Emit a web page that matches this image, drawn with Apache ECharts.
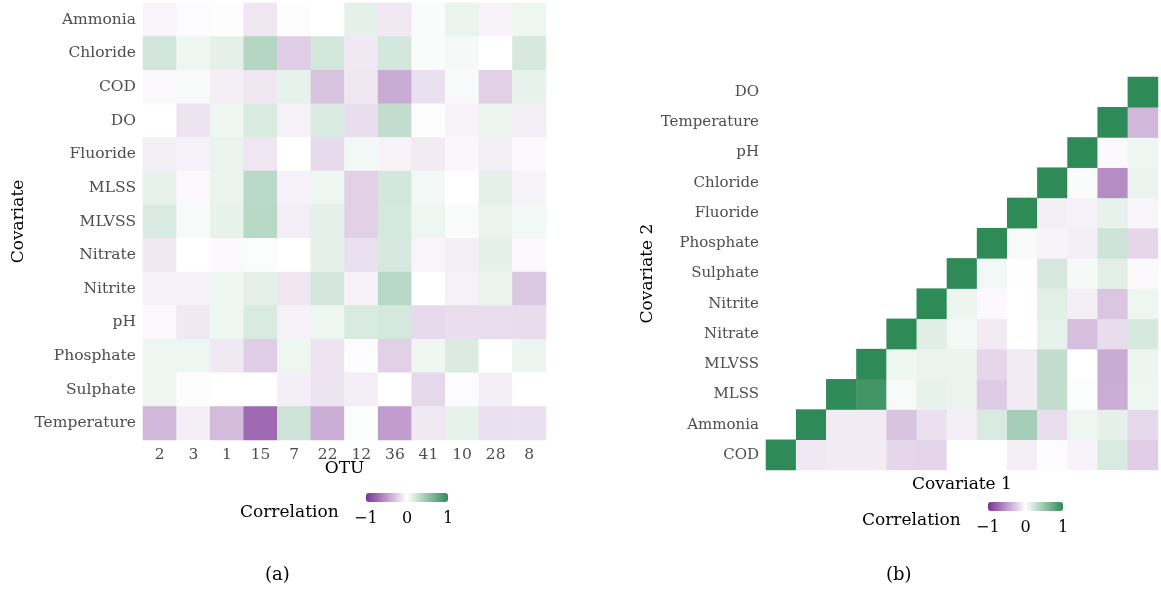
<!DOCTYPE html>
<html>
<head>
<meta charset="utf-8">
<script src="https://cdn.jsdelivr.net/npm/echarts@6/dist/echarts.min.js"></script>
<style>
html,body{margin:0;padding:0;background:#fff;}
#chart{width:1161px;height:592px;}
</style>
</head>
<body>
<div id="chart"></div>
<script>
// ---- data ----
var otuLabels = ['2','3','1','15','7','22','12','36','41','10','28','8'];
var covLeft = ['Ammonia','Chloride','COD','DO','Fluoride','MLSS','MLVSS','Nitrate','Nitrite','pH','Phosphate','Sulphate','Temperature'];
// rows follow covLeft, columns follow otuLabels
var otuCorr = [
  [-0.05,-0.02,-0.01,-0.12,-0.01, 0.00, 0.13,-0.11, 0.03, 0.10,-0.06, 0.08],
  [ 0.22, 0.07, 0.13, 0.35,-0.24, 0.21,-0.11, 0.21, 0.03, 0.05, 0.00, 0.19],
  [-0.03, 0.04,-0.08,-0.12, 0.11,-0.29,-0.12,-0.41,-0.15, 0.04,-0.23, 0.11],
  [ 0.00,-0.13, 0.08, 0.18,-0.07, 0.18,-0.16, 0.29,-0.01,-0.06, 0.09,-0.09],
  [-0.08,-0.07, 0.10,-0.12, 0.00,-0.18, 0.06,-0.06,-0.10,-0.04,-0.09,-0.03],
  [ 0.11,-0.03, 0.10, 0.33,-0.07, 0.08,-0.23, 0.21, 0.06, 0.00, 0.13,-0.06],
  [ 0.18, 0.04, 0.11, 0.34,-0.09, 0.13,-0.23, 0.20, 0.08, 0.03, 0.10, 0.06],
  [-0.11, 0.00,-0.03, 0.02, 0.00, 0.13,-0.15, 0.19,-0.05,-0.08, 0.13,-0.03],
  [-0.07,-0.07, 0.08, 0.13,-0.12, 0.21,-0.07, 0.34, 0.00,-0.07, 0.10,-0.27],
  [-0.03,-0.11, 0.08, 0.18,-0.07, 0.08, 0.18, 0.20,-0.18,-0.16,-0.16,-0.17],
  [ 0.08, 0.08,-0.11,-0.24, 0.08,-0.13,-0.02,-0.23, 0.07, 0.17, 0.00, 0.09],
  [ 0.08,-0.01, 0.00, 0.00,-0.08,-0.14,-0.08, 0.00,-0.19,-0.02,-0.08, 0.00],
  [-0.35,-0.08,-0.33,-0.73, 0.24,-0.40, 0.02,-0.48,-0.11, 0.11,-0.15,-0.15]
];

var cov2 = ['COD','Ammonia','MLSS','MLVSS','Nitrate','Nitrite','Sulphate','Phosphate','Fluoride','Chloride','pH','Temperature','DO'];
// upper triangle: row i holds correlations of cov2[i] with cov2[i..12]
var covCorr = [
  [1,-0.11,-0.10,-0.10,-0.20,-0.21, 0.00, 0.00,-0.08,-0.02,-0.06, 0.18,-0.24],
  [1,-0.10,-0.10,-0.29,-0.15,-0.08, 0.18, 0.43,-0.16, 0.08, 0.13,-0.19],
  [1, 0.91, 0.04, 0.11, 0.10,-0.25,-0.10, 0.29, 0.02,-0.40, 0.08],
  [1, 0.07, 0.10, 0.10,-0.20,-0.10, 0.29, 0.00,-0.41, 0.09],
  [1, 0.15, 0.06,-0.10, 0.00, 0.12,-0.31,-0.17, 0.19],
  [1, 0.09,-0.03, 0.00, 0.14,-0.08,-0.28, 0.08],
  [1, 0.06, 0.01, 0.19, 0.05, 0.14,-0.03],
  [1, 0.04,-0.06,-0.08, 0.24,-0.20],
  [1,-0.08,-0.07, 0.11,-0.05],
  [1, 0.03,-0.56, 0.10],
  [1,-0.03, 0.08],
  [1,-0.35],
  [1]
];

var legendTicks = ['\u22121','0','1'];
var colorRange = ['#7b3294','#ffffff','#2e8b57'];

// ---- build ----
var dataA = [];
otuCorr.forEach(function(row, r){ row.forEach(function(v, c){ dataA.push([c, r, v]); }); });
var dataB = [];
covCorr.forEach(function(row, r){ row.forEach(function(v, k){ dataB.push([r + k, r, v]); }); });

var FONT = 'DejaVu Serif';
var tickStyleA = {fontFamily: FONT, fontSize: 15.5, color: '#4d4d4d'};
var tickStyleB = {fontFamily: FONT, fontSize: 15, color: '#4d4d4d'};
var titleStyle = {fontFamily: FONT, fontSize: 17, color: '#000'};

function legendTexts(x0, x1, yTick, xTitle, yTitle){
  var els = [];
  var xs = [x0, (x0 + x1) / 2, x1];
  legendTicks.forEach(function(t, i){
    els.push({type:'text', left: xs[i] - (i === 0 ? 12 : 5), top: yTick,
      style:{text:t, font:'16px "' + FONT + '"', fill:'#000'}});
  });
  els.push({type:'text', left: xTitle, top: yTitle,
    style:{text:'Correlation', font:'17px "' + FONT + '"', fill:'#000'}});
  return els;
}

var chart = echarts.init(document.getElementById('chart'));
var option = {
  backgroundColor: '#fff',
  animation: false,
  grid: [
    {left: 143, top: 3, width: 403, height: 437},
    {left: 766, top: 77, width: 392, height: 393}
  ],
  xAxis: [
    {type:'category', gridIndex:0, data: otuLabels,
     axisLine:{show:false}, axisTick:{show:false}, splitLine:{show:false},
     axisLabel: Object.assign({margin: 7}, tickStyleA),
     name:'OTU', nameLocation:'middle', nameGap: 20, nameMoveOverlap: false, nameTextStyle: titleStyle},
    {type:'category', gridIndex:1, data: cov2,
     axisLine:{show:false}, axisTick:{show:false}, splitLine:{show:false},
     axisLabel:{show:false},
     name:'Covariate 1', nameLocation:'middle', nameGap: 6, nameTextStyle: titleStyle}
  ],
  yAxis: [
    {type:'category', gridIndex:0, data: covLeft, inverse: true,
     axisLine:{show:false}, axisTick:{show:false}, splitLine:{show:false},
     axisLabel: Object.assign({margin: 7}, tickStyleA),
     name:'Covariate', nameLocation:'middle', nameGap: 116, nameTextStyle: titleStyle},
    {type:'category', gridIndex:1, data: cov2,
     axisLine:{show:false}, axisTick:{show:false}, splitLine:{show:false},
     axisLabel: Object.assign({margin: 7}, tickStyleB),
     name:'Covariate 2', nameLocation:'middle', nameGap: 110, nameTextStyle: titleStyle}
  ],
  visualMap: [
    {type:'continuous', seriesIndex:0, min:-1, max:1, orient:'horizontal',
     left: 366, top: 493, itemWidth: 9, itemHeight: 82, calculable:false,
     text: null, showLabel:false, padding: 0, inRange:{color: colorRange}},
    {type:'continuous', seriesIndex:1, min:-1, max:1, orient:'horizontal',
     left: 988, top: 502, itemWidth: 9, itemHeight: 75, calculable:false,
     text: null, showLabel:false, padding: 0, inRange:{color: colorRange}}
  ],
  series: [
    {type:'heatmap', xAxisIndex:0, yAxisIndex:0, data: dataA, itemStyle:{borderWidth:0}},
    {type:'heatmap', xAxisIndex:1, yAxisIndex:1, data: dataB, itemStyle:{borderWidth:0}}
  ],
  graphic: [].concat(
    legendTexts(366, 448, 511, 240, 504),
    legendTexts(988, 1063, 520, 862, 512),
    [
      {type:'text', left: 265, top: 566, style:{text:'(a)', font:'18px "' + FONT + '"', fill:'#000'}},
      {type:'text', left: 886, top: 566, style:{text:'(b)', font:'18px "' + FONT + '"', fill:'#000'}}
    ]
  )
};
chart.setOption(option);
</script>
</body>
</html>
